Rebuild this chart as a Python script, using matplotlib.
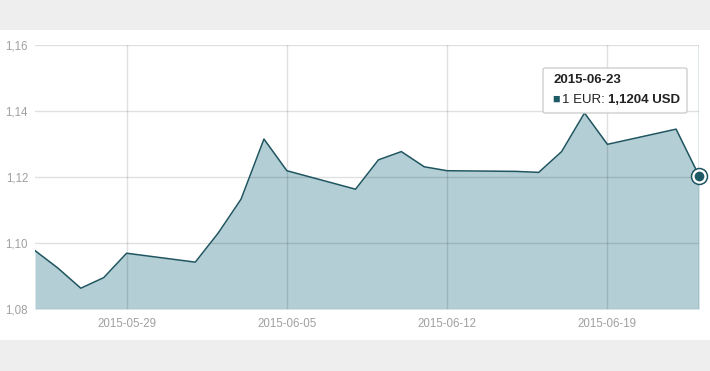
import matplotlib
matplotlib.use("Agg")
import matplotlib.pyplot as plt
import matplotlib.dates as mdates
from matplotlib.ticker import FuncFormatter
from matplotlib.patches import Rectangle, FancyBboxPatch
import pandas as pd

plt.rcParams['font.family'] = ['Liberation Sans', 'DejaVu Sans']

dates = ["2015-05-25", "2015-05-26", "2015-05-27", "2015-05-28", "2015-05-29",
         "2015-06-01", "2015-06-02", "2015-06-03", "2015-06-04", "2015-06-05",
         "2015-06-08", "2015-06-09", "2015-06-10", "2015-06-11", "2015-06-12",
         "2015-06-15", "2015-06-16", "2015-06-17", "2015-06-18", "2015-06-19",
         "2015-06-22", "2015-06-23"]
rates = [1.0977, 1.0924, 1.0863, 1.0895, 1.0969,
         1.0942, 1.1030, 1.1133, 1.1315, 1.1219,
         1.1163, 1.1252, 1.1277, 1.1231, 1.1219,
         1.1217, 1.1214, 1.1277, 1.1394, 1.1299,
         1.1345, 1.1204]
xtick_dates = ["2015-05-29", "2015-06-05", "2015-06-12", "2015-06-19"]
yticks = [1.08, 1.10, 1.12, 1.14, 1.16]
tooltip_date = "2015-06-23"
tooltip_label = "1 EUR: "
tooltip_value = "1,1204 USD"

x = pd.to_datetime(dates)
xt = pd.to_datetime(xtick_dates)

W, H = 710, 371
fig = plt.figure(figsize=(W / 100, H / 100), dpi=100)
fig.patch.set_facecolor('#eeeeee')
bg = fig.add_axes([0, (H - 340) / H, 1, 310 / H], zorder=0)
bg.set_facecolor('white')
bg.set_axis_off()
bg.add_patch(Rectangle((0, 0), 1, 1, transform=bg.transAxes, facecolor='white', edgecolor='none'))

ax = fig.add_axes([35 / W, (H - 309) / H, 664 / W, 264 / H], zorder=1)
ax.set_facecolor('none')
ax.fill_between(x, rates, 1.08, color='#b3ced5', zorder=1, linewidth=0)
ax.plot(x, rates, color='#1e5560', linewidth=1.1, zorder=3)

ax.set_ylim(1.08, 1.16)
ax.set_xlim(x[0], x[-1])
ax.set_yticks(yticks)
ax.set_xticks(xt)
ax.xaxis.set_major_formatter(mdates.DateFormatter('%Y-%m-%d'))
ax.yaxis.set_major_formatter(FuncFormatter(lambda v, p: f"{v:.2f}".replace('.', ',')))
ax.grid(True, color='black', alpha=0.12, linewidth=1, zorder=2)
ax.set_axisbelow(False)
for s in ax.spines.values():
    s.set_visible(False)
ax.tick_params(axis='both', length=0, labelsize=8.3, colors='#a0a0a0')
ax.tick_params(axis='x', pad=6.5)
ax.tick_params(axis='y', pad=5)

# hover crosshair and marker
ax.axvline(x[-1], color='#5f8f99', linewidth=1, zorder=4)
ax.plot([x[-1]], [rates[-1]], marker='o', markersize=11.5, markerfacecolor='white',
        markeredgecolor='#1e5560', markeredgewidth=1.1, zorder=5, clip_on=False)
ax.plot([x[-1]], [rates[-1]], marker='o', markersize=7, markerfacecolor='#1e5a66',
        markeredgecolor='none', zorder=6, clip_on=False)

# tooltip
tb = FancyBboxPatch((543 / W, (H - 113) / H), 144 / W, 45 / H,
                    boxstyle="round,pad=0,rounding_size=0.004",
                    transform=fig.transFigure, facecolor='white', edgecolor='#cccccc',
                    linewidth=1, alpha=0.95, zorder=10)
fig.patches.append(tb)
fig.text(553 / W, (H - 80) / H, tooltip_date, fontsize=9.5, fontweight='bold',
         color='#222222', va='center', ha='left', zorder=11)
fig.text(552 / W, (H - 100) / H, "\u25a0", fontsize=9, color='#1e5a66',
         va='center', ha='left', zorder=11)
t1 = fig.text(562 / W, (H - 100) / H, tooltip_label, fontsize=9.5, color='#222222',
              va='center', ha='left', zorder=11)
fig.canvas.draw()
bb = t1.get_window_extent()
fig.text(bb.x1 / W, (H - 100) / H, tooltip_value, fontsize=9.5, fontweight='bold',
         color='#222222', va='center', ha='left', zorder=11)

fig.savefig('out.png', dpi=100, facecolor=fig.get_facecolor())
